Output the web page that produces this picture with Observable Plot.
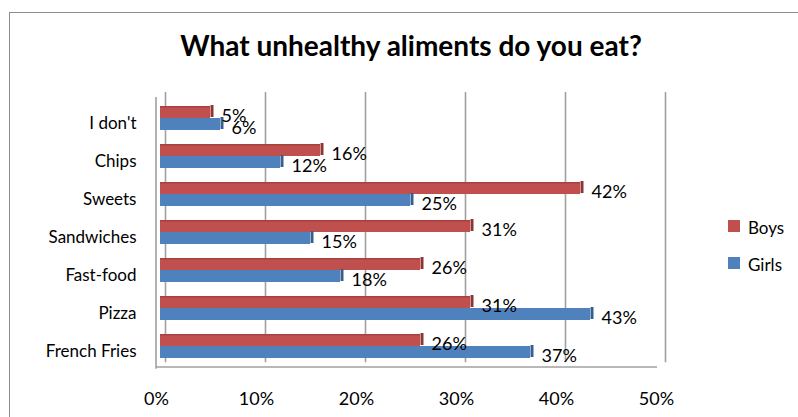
<!DOCTYPE html>
<html>
<head>
<meta charset="utf-8">
<script src="https://cdn.jsdelivr.net/npm/d3@7"></script>
<script src="https://cdn.jsdelivr.net/npm/@observablehq/plot@0.6"></script>
<style>
  html, body { margin: 0; padding: 0; background: #fff; }
  #wrap { position: relative; width: 798px; height: 417px; overflow: hidden; font-family: Lato, "Open Sans", sans-serif; }
  #border { position: absolute; left: 9px; top: 12px; width: 900px; height: 500px; border-left: 1px solid #8c8c8c; border-top: 1px solid #8c8c8c; }
  #title { position: absolute; left: 0; top: 29px; width: 822px; text-align: center; font-weight: bold; font-size: 28px; line-height: 32px; color: #000; }
  #chart { position: absolute; left: 0; top: 0; }
  .lg { position: absolute; left: 728px; font-size: 17px; line-height: 17px; color: #000; }
  .lg span.sw { position: absolute; left: 0; top: 1px; width: 12px; height: 12px; }
  .lg span.tx { position: absolute; left: 20px; top: 0; white-space: nowrap; }
</style>
</head>
<body>
<div id="wrap">
  <div id="border"></div>
  <div id="chart"></div>
  <div id="title"></div>
  <div id="legend"></div>
</div>
<script>
const title = "What unhealthy aliments do you eat?";
const categories = ["I don't", "Chips", "Sweets", "Sandwiches", "Fast-food", "Pizza", "French Fries"];
const seriesNames = ["Boys", "Girls"];
const boys = [5, 16, 42, 31, 26, 31, 26];
const girls = [6, 12, 25, 15, 18, 43, 37];
const xTicks = [0, 10, 20, 30, 40, 50];
const colors = {Boys: "#C0504D", Girls: "#4F81BD"};
const capColors = {Boys: "#8E3532", Girls: "#355F91"};

const boysData = categories.map((c, i) => ({category: c, series: "Boys", value: boys[i]}));
const girlsData = categories.map((c, i) => ({category: c, series: "Girls", value: girls[i]}));
const floor = [{y: categories[categories.length - 1], x1: xTicks[0], x2: xTicks[xTicks.length - 1]}];

const half = 12;
const chart = Plot.plot({
  width: 798,
  height: 417,
  marginLeft: 160,
  marginRight: 138,
  marginTop: 95.6,
  marginBottom: 49.8,
  style: {fontFamily: "Lato, 'Open Sans', sans-serif", fontSize: "17px", color: "#000", background: "transparent"},
  x: {domain: [0, 50], axis: null},
  y: {domain: categories, axis: null, paddingInner: 0.381, paddingOuter: 0.19},
  marks: [
    // back wall / grid lines
    Plot.ruleX(xTicks, {dx: 5, stroke: "#a0a0a0", strokeWidth: 1.6, insetTop: -3.6, insetBottom: 5}),
    // left wall outer edge
    Plot.ruleX([xTicks[0]], {dx: -4.5, stroke: "#a0a0a0", strokeWidth: 1.6, insetTop: 1.4, insetBottom: -1.5}),
    // floor front edge
    Plot.ruleY(floor, {y: "y", x1: "x1", x2: "x2", dy: 20.5, insetLeft: -4, insetRight: 3, stroke: "#a0a0a0", strokeWidth: 1.6}),
    // bars
    Plot.barX(boysData, {x: "value", y: "category", fill: colors.Boys, insetBottom: half}),
    Plot.barX(girlsData, {x: "value", y: "category", fill: colors.Girls, insetTop: half}),
    // top edge shading
    Plot.barX(boysData, {x: "value", y: "category", fill: "#A8413E", insetBottom: 2 * half - 1.5}),
    // 3D end caps
    Plot.tickX(boysData, {x: "value", y: "category", stroke: capColors.Boys, strokeWidth: 3, dx: 1.5, dy: -1, insetBottom: half}),
    Plot.tickX(girlsData, {x: "value", y: "category", stroke: capColors.Girls, strokeWidth: 3, dx: 1.5, dy: -1, insetTop: half}),
    // data labels
    Plot.text(boysData, {x: "value", y: "category", text: d => d.value + "%", textAnchor: "start", dx: 11, dy: -2, fill: "#000", fontSize: 18}),
    Plot.text(girlsData, {x: "value", y: "category", text: d => d.value + "%", textAnchor: "start", dx: 11, dy: 10, fill: "#000", fontSize: 18}),
    // category labels
    Plot.text(categories, {y: d => d, text: d => d, frameAnchor: "left", textAnchor: "end", dx: -24, dy: 5, fill: "#000", fontSize: 17}),
    // x tick labels
    Plot.text(xTicks, {x: d => d, text: d => d + "%", frameAnchor: "bottom", dx: -4, dy: 37, fill: "#000", fontSize: 18})
  ]
});
document.getElementById("chart").appendChild(chart);
document.getElementById("title").textContent = title;

const legend = document.getElementById("legend");
seriesNames.forEach((s, i) => {
  const div = document.createElement("div");
  div.className = "lg";
  div.style.top = (219 + i * 37) + "px";
  div.innerHTML = `<span class="sw" style="background:${colors[s]}"></span><span class="tx">${s}</span>`;
  legend.appendChild(div);
});
</script>
</body>
</html>
